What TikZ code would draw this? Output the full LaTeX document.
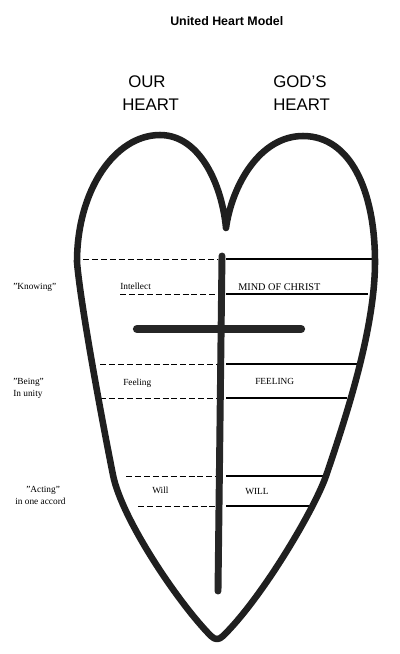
\documentclass[tikz,border=0pt]{standalone}
\usepackage{fontspec}
\setmainfont{Liberation Serif}
\newfontfamily\hsans{Liberation Sans}
\begin{document}
\begin{tikzpicture}[x=0.75pt,y=-0.75pt,
  heartline/.style={line width=4.9pt, line join=round, line cap=round, color=black!88},
  crossline/.style={line width=5.2pt, line cap=round, color=black!85},
  dashline/.style={line width=0.7pt, dash pattern=on 4.5pt off 2.2pt},
  solidline/.style={line width=0.8pt},
  lab/.style={font=\fontsize{7}{8}\selectfont, inner sep=0pt, anchor=base west},
  head/.style={font=\hsans\fontsize{12.6}{14}\selectfont, inner sep=0pt, anchor=base west},
]
\useasboundingbox (0,0) rectangle (400,654);
\fill[white] (0,0) rectangle (400,654);

\node[font=\hsans\bfseries\fontsize{9.3}{10}\selectfont, anchor=base west, inner sep=0pt] (title) at (170,25) {United Heart Model};
\node[head] (our) at (128,87) {OUR};
\node[head] (ourheart) at (122,110) {HEART};
\node[head] (gods) at (273,87) {GOD’S};
\node[head] (godsheart) at (273,110) {HEART};

% section lines
\draw[dashline] (83,259) -- (218,259);
\draw[solidline] (226,259) -- (372,259);
\draw[dashline] (120,294) -- (218,294);
\draw[solidline] (226,294) -- (368,294);
\draw[dashline] (100,364) -- (218,364);
\draw[solidline] (226,364) -- (357,364);
\draw[dashline] (100,398) -- (218,398);
\draw[solidline] (226,398) -- (347,398);
\draw[dashline] (126,476) -- (218,476);
\draw[solidline] (226,476) -- (323,476);
\draw[dashline] (138,506) -- (218,506);
\draw[solidline] (226,506) -- (313,506);

% heart
\draw[heartline] (226,228) .. controls (232,185) and (260,136) .. (303,136)
  .. controls (350,136) and (375,190) .. (375,262)
  .. controls (375,330) and (345,420) .. (326,476)
  .. controls (314,510) and (262,598) .. (223,636)
  .. controls (219,640) and (215,640) .. (211,636)
  .. controls (180,605) and (122,520) .. (113,475)
  .. controls (100,410) and (80,300) .. (77,262)
  .. controls (77,190) and (115,135) .. (160,135)
  .. controls (200,135) and (222,185) .. (226,228) -- cycle;

% cross
\coordinate (vt) at (222,256);
\coordinate (vb) at (218,591);
\coordinate (hl) at (137,329);
\coordinate (hr) at (301,329);
\draw[crossline] (vt) -- (vb);
\draw[crossline, line width=6.2pt] (hl) -- (hr);

% labels
\node[lab] (knowing) at (13,289) {"Knowing"};
\node[lab] (intellect) at (120,289) {Intellect};
\node[lab, font=\fontsize{7.7}{8}\selectfont] (mind) at (238,290) {MIND OF CHRIST};
\node[lab] (being) at (13,384) {"Being"};
\node[lab] (unity) at (13,396) {In unity};
\node[lab] (feeling) at (123,385) {Feeling};
\node[lab] (feelingc) at (255,384) {FEELING};
\node[lab] (acting) at (26,492) {"Acting"};
\node[lab] (accord) at (15,504) {in one accord};
\node[lab] (will) at (152,493) {Will};
\node[lab] (willc) at (245,494) {WILL};
\end{tikzpicture}
\end{document}
